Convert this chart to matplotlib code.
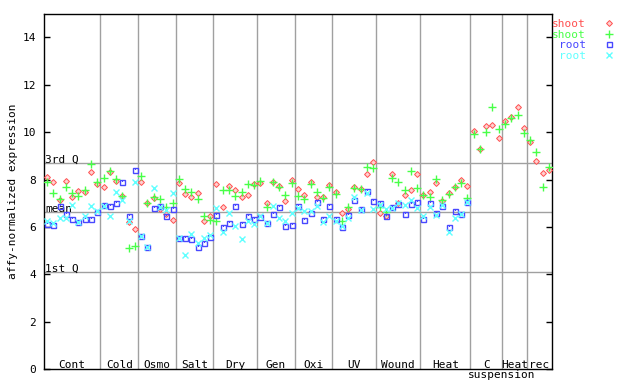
import numpy as np
import matplotlib.pyplot as plt

plt.rcParams['font.family'] = ['DejaVu Sans Mono']

# experiment groups along the x axis (samples per group)
groups = ['Cont', 'Cold', 'Osmo', 'Salt', 'Dry', 'Gen', 'Oxi', 'UV', 'Wound', 'Heat', 'C', 'Heat', 'rec']
group_sizes = [9, 6, 6, 6, 7, 6, 6, 7, 7, 8, 5, 4, 4]

# shoot replicates (all samples incl. suspension)
shoot_a = [8.10, 7.89, 7.12, 7.93, 7.25, 7.54, 7.49, 8.34, 7.81,
           7.69, 8.32, 7.92, 7.31, 6.22, 5.91,
           7.88, 7.02, 7.21, 6.77, 6.55, 6.30,
           7.84, 7.38, 7.28, 7.42, 6.26, 6.47,
           7.80, 6.83, 7.73, 7.55, 7.28, 7.35, 7.80,
           7.84, 7.03, 7.89, 7.73, 7.11, 7.98,
           7.59, 7.36, 7.89, 7.28, 7.25, 7.77,
           7.47, 6.61, 6.75, 7.67, 7.59, 8.24, 8.73,
           6.61, 6.47, 8.24, 7.00, 7.35, 7.56, 8.24,
           7.35, 7.46, 7.84, 7.10, 7.42, 7.67, 7.98, 7.73,
           10.05, 9.28, 10.26, 10.30, 9.74,
           10.47, 10.63, 11.05, 10.16,
           9.60, 8.80, 8.27, 8.41]
shoot_b = [7.89, 7.42, 7.18, 7.69, 7.42, 7.31, 7.55, 8.66, 7.88,
           8.05, 8.36, 8.01, 7.30, 5.10, 5.18,
           8.15, 7.02, 7.25, 7.17, 6.85, 7.00,
           8.01, 7.59, 7.49, 7.17, 6.47, 6.30,
           6.25, 7.55, 7.55, 7.30, 7.49, 7.80, 7.77,
           7.94, 6.86, 7.89, 7.70, 7.35, 7.84,
           7.30, 7.17, 7.80, 7.46, 7.21, 7.70,
           7.39, 6.27, 6.83, 7.63, 7.59, 8.52, 8.48,
           6.86, 6.65, 8.08, 7.89, 7.56, 8.35, 7.63,
           7.35, 7.25, 8.01, 7.14, 7.39, 7.67, 7.84, 7.21,
           9.91, 9.28, 9.99, 11.05, 10.12,
           10.33, 10.58, 10.73, 9.95,
           9.67, 9.18, 7.70, 8.52]
# root replicates (no suspension samples)
root_a = [6.11, 6.07, 6.89, 6.55, 6.32, 6.20, 6.32, 6.32, 6.65,
          6.91, 6.89, 7.00, 7.88, 6.46, 8.39,
          5.62, 5.17, 6.79, 6.90, 6.45, 6.75,
          5.55, 5.55, 5.48, 5.14, 5.34, 5.59,
          6.51, 5.99, 6.16, 6.89, 6.11, 6.47, 6.32,
          6.41, 6.16, 6.54, 6.83, 6.04, 6.09,
          6.89, 6.28, 6.58, 7.05, 6.32, 6.88,
          6.32, 6.01, 6.51, 7.14, 6.78, 7.53, 7.10,
          7.00, 6.47, 6.83, 6.97, 6.54, 6.96, 7.04,
          6.32, 7.00, 6.60, 6.89, 6.02, 6.68, 6.54, 7.07]
root_b = [6.25, 6.15, 6.37, 6.40, 6.94, 6.20, 6.47, 6.89, 6.69,
          6.90, 6.47, 7.46, 7.16, 6.25, 7.88,
          5.62, 5.17, 7.63, 6.85, 6.70, 7.42,
          5.55, 4.82, 5.69, 5.34, 5.52, 5.66,
          6.79, 5.78, 6.58, 6.04, 5.48, 6.27, 6.11,
          6.47, 6.16, 6.89, 6.37, 6.25, 6.58,
          6.79, 6.69, 6.66, 6.90, 6.20, 6.46,
          6.24, 6.05, 6.36, 7.25, 6.72, 7.43, 6.75,
          6.93, 6.75, 6.79, 7.03, 6.93, 7.16, 6.79,
          6.47, 6.84, 6.51, 6.93, 5.80, 6.37, 6.54, 7.07]

q3, q_mean, q1 = 8.69, 6.62, 4.09

n = len(shoot_a)
x = np.arange(n)
xr = x[:len(root_a)]

fig = plt.figure(figsize=(6.4, 3.84), dpi=100)
ax = fig.add_axes([44 / 640, 1 - 369.3 / 384, 508 / 640, 355.7 / 384])

red, green, blue, cyan = '#ff5050', '#48ff48', '#4848ff', '#60ffff'
grey = '#a0a0a0'

# group separators and quartile lines
edges = np.cumsum(group_sizes)[:-1] - 0.5
for e in edges:
    ax.axvline(e, color=grey, lw=1, zorder=1)
for q, name in [(q3, '3rd Q'), (q_mean, 'mean'), (q1, '1st Q')]:
    ax.axhline(q, color=grey, lw=1, zorder=1)
    ax.text(0.002, q + 0.02, name, transform=ax.get_yaxis_transform(),
            fontsize=8, va='baseline', ha='left')

ax.plot(x, shoot_a, ls='none', marker='D', ms=3.0, mfc='#ffd0d0', mec=red, mew=0.7,
        label='shoot', zorder=3)
ax.plot(x, shoot_b, ls='none', marker='+', ms=5.5, mec=green, mew=1.0,
        label='shoot', zorder=4)
ax.plot(xr, root_a, ls='none', marker='s', ms=3.6, mfc='none', mec=blue, mew=1.0,
        label='root', zorder=5)
ax.plot(xr, root_a, ls='none', marker=',', color=blue, zorder=5)
ax.plot(xr, root_b, ls='none', marker='x', ms=4, mec=cyan, mew=1.0,
        label='root', zorder=6)

ax.set_xlim(-0.5, n - 0.5)
ax.set_ylim(0, 15)
ax.set_yticks(range(0, 15, 2))
ax.set_xticks([])
ax.tick_params(axis='y', direction='in', length=4, width=1, left=True, right=True,
               labelsize=8, pad=5.5)
for s in ax.spines.values():
    s.set_linewidth(1)
ax.set_ylabel('affy-normalized expression', fontsize=8, labelpad=3.5)

# group labels
starts = np.concatenate([[0], np.cumsum(group_sizes)[:-1]])
for g, s0, k in zip(groups, starts, group_sizes):
    ax.text(s0 + (k - 1) / 2, 0.07, g, fontsize=8, ha='center', va='baseline')
ax.text(edges[10], -0.37, 'suspension', fontsize=8, ha='center', va='baseline',
        clip_on=False)

leg = ax.legend(loc='upper left', bbox_to_anchor=(1.0, 0.985), frameon=False,
                markerfirst=False, fontsize=8, labelspacing=0.06, handlelength=1.0,
                handletextpad=1.55, borderpad=0, borderaxespad=0)
for t, c in zip(leg.get_texts(), [red, green, blue, cyan]):
    t.set_color(c)

fig.savefig('out.png', dpi=100)
